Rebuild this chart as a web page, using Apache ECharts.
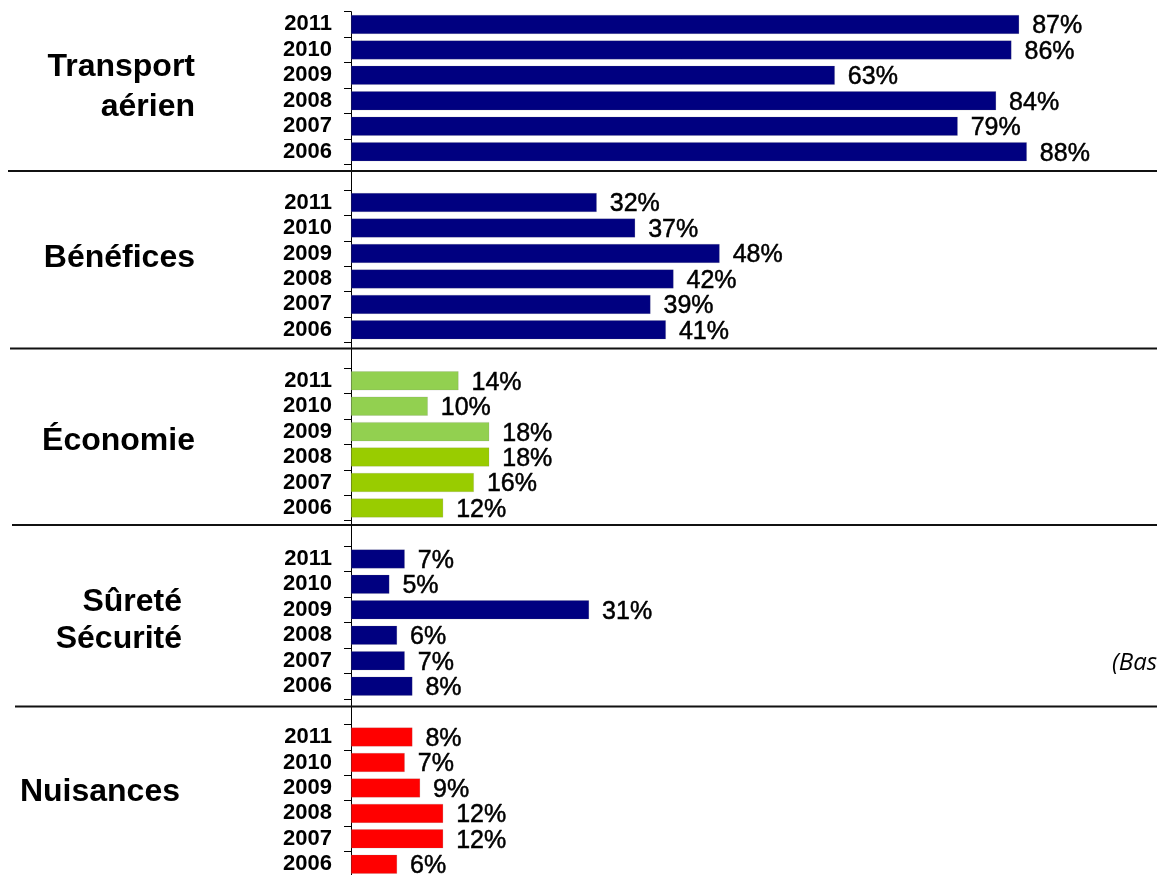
<!DOCTYPE html>
<html>
<head>
<meta charset="utf-8">
<script src="https://cdn.jsdelivr.net/npm/echarts@6/dist/echarts.min.js"></script>
<style>
html,body{margin:0;padding:0;background:#fff;}
#chart{width:1157px;height:875px;}
</style>
</head>
<body>
<div id="chart"></div>
<script>
// ---- data ----
const groupNames = ['Transport\naérien', 'Bénéfices', 'Économie', 'Sûreté\nSécurité', 'Nuisances'];
const years = ['2011', '2010', '2009', '2008', '2007', '2006'];
const transportAerien = [87, 86, 63, 84, 79, 88];
const benefices = [32, 37, 48, 42, 39, 41];
const economie = [14, 10, 18, 18, 16, 12];
const sureteSecurite = [7, 5, 31, 6, 7, 8];
const nuisances = [8, 7, 9, 12, 12, 6];
const groupValues = [transportAerien, benefices, economie, sureteSecurite, nuisances];
const navy = '#000080';
const groupColors = [
  [navy, navy, navy, navy, navy, navy],
  [navy, navy, navy, navy, navy, navy],
  ['#92D050', '#92D050', '#92D050', '#99CC00', '#99CC00', '#99CC00'],
  [navy, navy, navy, navy, navy, navy],
  ['#FF0000', '#FF0000', '#FF0000', '#FF0000', '#FF0000', '#FF0000']
];
const footnote = '(Base';

// ---- build category rows (one empty row between groups) ----
const categories = [];
const barData = [];
groupValues.forEach((vals, g) => {
  if (g > 0) { categories.push('gap' + g); barData.push('-'); }
  years.forEach((y, i) => {
    categories.push(g + '-' + y);
    barData.push({ value: vals[i], itemStyle: { color: groupColors[g][i] } });
  });
});

const chart = echarts.init(document.getElementById('chart'), null, { renderer: 'canvas' });

const sepLines = [
  { y: 171, x1: 8 }, { y: 348.5, x1: 10 }, { y: 525, x1: 12 }, { y: 706.5, x1: 15 }
];
const groupLabelPos = [
  { x: 195, y: 87, lh: 40 },
  { x: 195, y: 258, lh: 40 },
  { x: 195, y: 441, lh: 40 },
  { x: 182, y: 621, lh: 37 },
  { x: 180, y: 792, lh: 40 }
];

const graphics = [];
sepLines.forEach(s => graphics.push({
  type: 'line', z: 10,
  shape: { x1: s.x1, y1: s.y, x2: 1157, y2: s.y },
  style: { stroke: '#111', lineWidth: 2 }
}));
groupNames.forEach((name, g) => graphics.push({
  type: 'text', z: 10,
  x: groupLabelPos[g].x, y: groupLabelPos[g].y,
  style: {
    text: name, align: 'right', verticalAlign: 'middle',
    font: 'bold 32px "Liberation Sans", Arial, sans-serif',
    lineHeight: groupLabelPos[g].lh, fill: '#000'
  }
}));
graphics.push({
  type: 'text', z: 10, x: 1112, y: 663,
  style: {
    text: footnote, align: 'left', verticalAlign: 'middle',
    font: 'italic 24px "Open Sans", sans-serif', fill: '#000'
  }
});

chart.setOption({
  animation: false,
  backgroundColor: '#fff',
  grid: { left: 351, right: 38, top: 11.7, height: 865.3, containLabel: false, outerBoundsMode: 'none' },
  xAxis: {
    type: 'value', min: 0, max: 100, show: false,
    splitLine: { show: false }
  },
  yAxis: {
    type: 'category', inverse: true, data: categories,
    axisLine: { show: true, lineStyle: { color: '#000', width: 1 } },
    axisTick: { show: true, inside: false, length: 7, interval: 0, lineStyle: { color: '#000' } },
    axisLabel: {
      interval: 0, margin: 19,
      fontFamily: '"Liberation Sans", Arial, sans-serif', fontWeight: 'bold', fontSize: 22, color: '#000',
      formatter: v => (v.indexOf('-') >= 0 ? v.split('-')[1] : '')
    },
    splitLine: { show: false }
  },
  series: [{
    type: 'bar',
    data: barData,
    barWidth: 19,
    itemStyle: { borderColor: 'rgba(120,120,120,0.35)', borderWidth: 0.5 },
    label: {
      show: true, position: 'right', distance: 13, offset: [0, 2],
      formatter: '{c}%',
      fontFamily: '"Liberation Sans", Arial, sans-serif', fontSize: 25, color: '#000',
      textBorderColor: '#000', textBorderWidth: 0.5
    }
  }],
  graphic: graphics
});
</script>
</body>
</html>
